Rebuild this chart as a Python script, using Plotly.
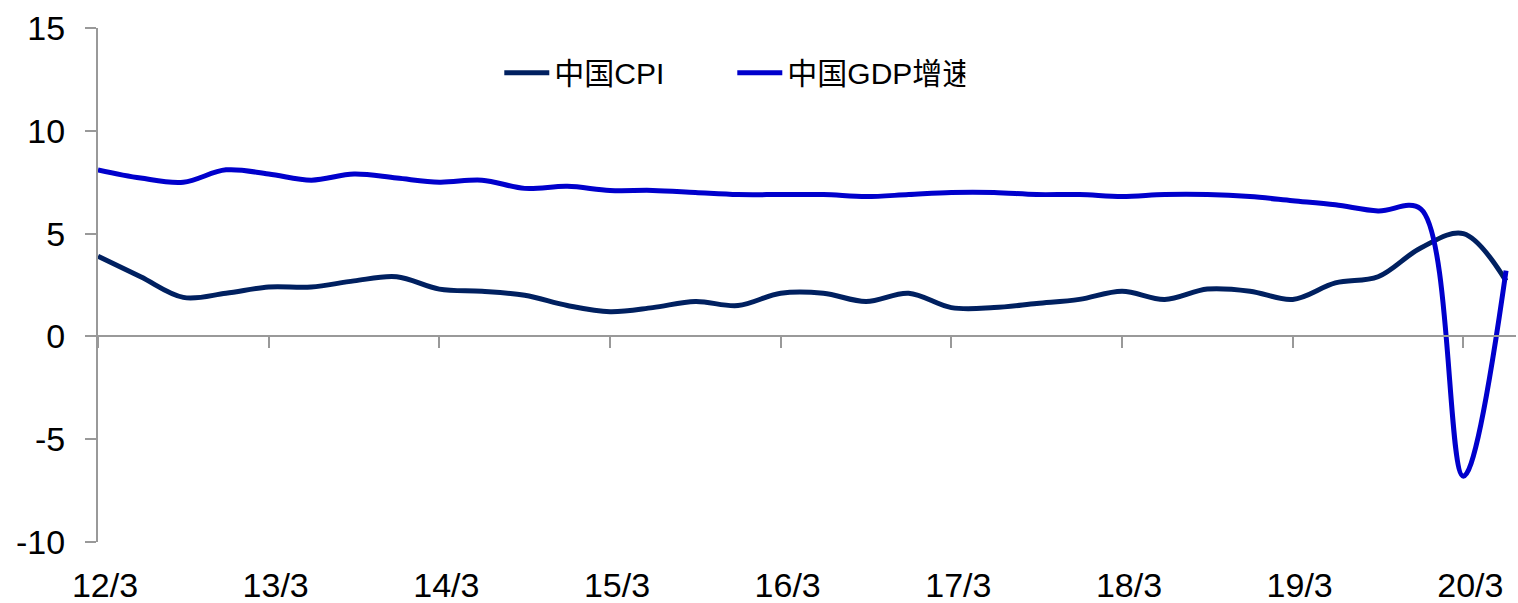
import plotly.graph_objects as go

# Quarterly observations (quarter-end months), 2012Q1 .. 2020Q2
quarters = [f"{y:02d}/{m}" for y in range(12, 21) for m in (3, 6, 9, 12)][:34]
cpi = [3.9, 2.9, 1.9, 2.1, 2.4, 2.4, 2.7, 2.9, 2.3, 2.2, 2.0, 1.5,
       1.2, 1.4, 1.7, 1.5, 2.1, 2.1, 1.7, 2.1, 1.4, 1.4, 1.6, 1.8,
       2.2, 1.8, 2.3, 2.2, 1.8, 2.6, 2.9, 4.3, 5.0, 2.7]
gdp = [8.1, 7.7, 7.5, 8.1, 7.9, 7.6, 7.9, 7.7, 7.5, 7.6, 7.2, 7.3,
       7.1, 7.1, 7.0, 6.9, 6.9, 6.9, 6.8, 6.9, 7.0, 7.0, 6.9, 6.9,
       6.8, 6.9, 6.9, 6.8, 6.6, 6.4, 6.1, 6.2, -6.8, 3.2]
tick_labels = ["12/3", "13/3", "14/3", "15/3", "16/3", "17/3", "18/3", "19/3", "20/3"]
y_ticks = [-10, -5, 0, 5, 10, 15]
y_tick_text = ["-10", "-5", "0", "5", "10", "15"]

# month index on a monthly category axis
x_idx = [3 * i for i in range(len(quarters))]
tick_idx = [quarters.index(t) * 3 for t in tick_labels]

AX = "#999999"
fig = go.Figure()
fig.add_trace(go.Scatter(x=x_idx, y=cpi, name="中国CPI", mode="lines",
                         line=dict(color="#002060", width=5, shape="spline", smoothing=1.0),
                         xaxis="x", yaxis="y"))
fig.add_trace(go.Scatter(x=x_idx, y=gdp, name="中国GDP增速", mode="lines",
                         line=dict(color="#0000CC", width=5, shape="spline", smoothing=1.0),
                         xaxis="x2", yaxis="y"))

fig.update_layout(
    width=1518, height=603,
    margin=dict(l=98, r=2, t=28, b=61, autoexpand=False),
    paper_bgcolor="white", plot_bgcolor="white",
    font=dict(family="Liberation Sans, Arial, Noto Sans CJK SC", color="black"),
    showlegend=True,
    legend=dict(orientation="h", x=0.283, y=0.913, xanchor="left", yanchor="middle",
                font=dict(size=30, family="Liberation Sans, Noto Sans CJK SC", color="black"),
                entrywidth=173, entrywidthmode="pixels", itemwidth=45,
                bgcolor="rgba(0,0,0,0)"),
    xaxis=dict(range=[0, 99.7], showline=False, showgrid=False, zeroline=False,
               automargin=False,
               tickmode="array", tickvals=tick_idx, ticktext=tick_labels,
               ticks="", tickfont=dict(size=34), ticklabelstandoff=20, ticklabelshift=7),
    xaxis2=dict(matches="x", overlaying="x", anchor="free", position=0.4,
                showline=True, linecolor=AX, linewidth=2, showgrid=False, zeroline=False,
                automargin=False,
                tickmode="array", tickvals=tick_idx, ticks="outside", ticklen=11,
                tickcolor=AX, tickwidth=2, showticklabels=False),
    yaxis=dict(range=[-10, 15], tickmode="array", tickvals=y_ticks, ticktext=y_tick_text,
               showline=True, linecolor=AX, linewidth=2, automargin=False,
               showgrid=False, zeroline=False, ticks="outside", ticklen=11,
               tickcolor=AX, tickwidth=2, tickfont=dict(size=34), ticklabelstandoff=13),
)

fig.write_html("out.html")
